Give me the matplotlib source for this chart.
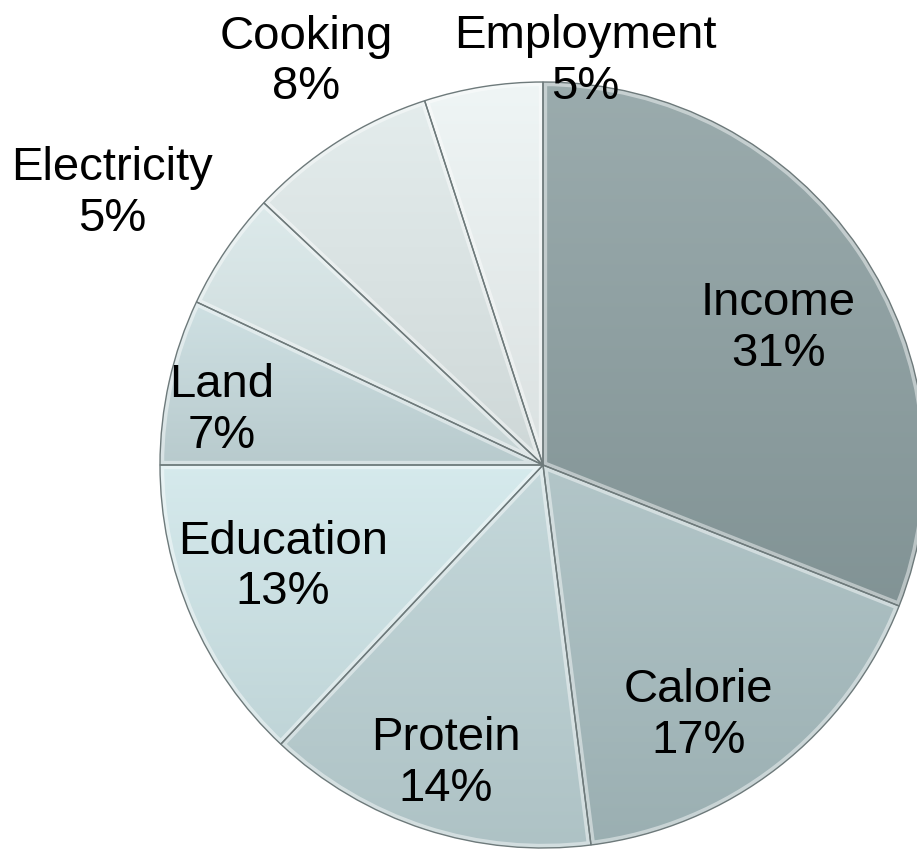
import numpy as np
import matplotlib.pyplot as plt
from matplotlib.colors import to_rgb
from matplotlib.patches import Wedge

# ---- data ----
labels = ["Income", "Calorie", "Protein", "Education", "Land",
          "Electricity", "Cooking", "Employment"]
shares = [31, 17, 14, 13, 7, 5, 8, 5]
colors = ["#8da0a2", "#a8bec1", "#bdd3d6", "#d0e7ea", "#c8dcdf",
          "#d8e7e8", "#e0eaea", "#edf4f4"]

# label placement: radius (fraction of pie radius) and angular nudge (deg)
label_r = [0.71, 0.77, 0.82, 0.73, 0.85, 1.33, 1.22, 1.06]
label_shift = [-4, -6, 0, -2, 3, 2, -2, -15]

fig = plt.figure(figsize=(9.17, 8.55), dpi=100)
ax = fig.add_axes([0, 0, 1, 1])

wedges, _ = ax.pie(shares, colors=colors, startangle=90, counterclock=False,
                   wedgeprops=dict(linewidth=0))

t = np.linspace(1, 0, 256)[:, None, None]
for w, c in zip(wedges, colors):
    # vertical gradient over each slice's own height
    rgb = np.array(to_rgb(c))
    top = rgb + (1 - rgb) * 0.12
    bot = rgb * 0.92
    img = top * t + bot * (1 - t)
    bb = w.get_path().get_extents()
    im = ax.imshow(img, extent=(bb.x0, bb.x1, bb.y0, bb.y1), aspect="auto",
                   interpolation="bilinear", zorder=2)
    im.set_clip_path(w)

    # bevel: light band inside the edge, then a thin dark outline
    hl = Wedge(w.center, w.r, w.theta1, w.theta2, fill=False,
               ec="white", lw=6, alpha=0.45, zorder=3)
    ax.add_patch(hl)
    hl.set_clip_path(w)
    ax.add_patch(Wedge(w.center, w.r, w.theta1, w.theta2, fill=False,
                       ec="#6e7a7b", lw=1.0, zorder=4))

for w, lab, val, rf, sh in zip(wedges, labels, shares, label_r, label_shift):
    mid = np.deg2rad((w.theta1 + w.theta2) / 2 + sh)
    ax.text(rf * np.cos(mid), rf * np.sin(mid), f"{lab}\n{val}%",
            ha="center", va="center", fontsize=34, family="Liberation Sans",
            linespacing=1.2, zorder=5)

ax.set_xlim(-543 / 383, 374 / 383)
ax.set_ylim(-390 / 383, 465 / 383)
ax.set_aspect("equal")
ax.axis("off")

fig.savefig("out.png", dpi=100)
